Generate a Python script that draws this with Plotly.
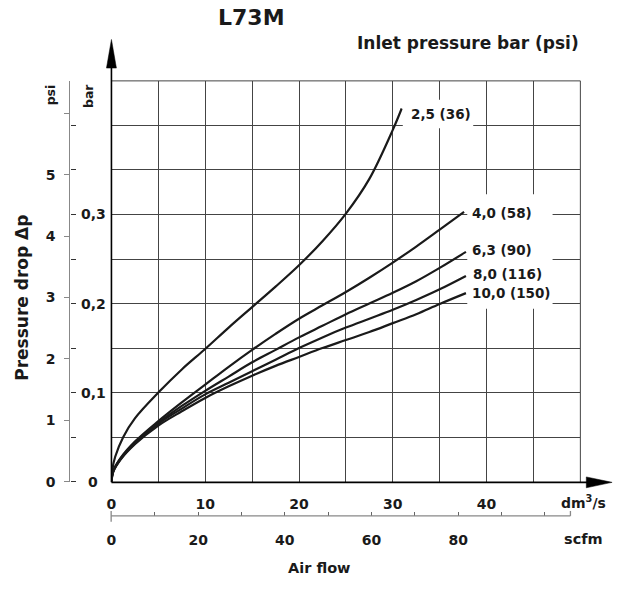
import plotly.graph_objects as go

W, H = 625, 589
def px(x): return x / W
def py(y): return 1 - y / H

# ---------------- data (flow in dm3/s, pressure drop in bar) ----------------
q_25 = [0, 0.1, 0.4, 1.25, 2.5, 5, 7.5, 10, 12.5, 15, 17.5, 20, 22.5, 25, 27.5, 30, 30.95]
p_25 = [0, 0.014, 0.028, 0.050, 0.071, 0.100, 0.126, 0.149, 0.173, 0.196,
        0.219, 0.243, 0.270, 0.301, 0.340, 0.395, 0.419]

q_hi = [0, 0.2, 1, 2.5, 5, 7.5, 10, 12.5, 15, 17.5, 20, 22.5, 25, 27.5, 30, 32.5, 35]
q_40 = q_hi + [37.6]
p_40 = [0, 0.012, 0.027, 0.045, 0.068, 0.089, 0.109, 0.129, 0.148, 0.166, 0.183, 0.198,
        0.213, 0.229, 0.246, 0.264, 0.283, 0.303]
q_63 = q_hi + [37.8]
p_63 = [0, 0.012, 0.026, 0.044, 0.066, 0.085, 0.102, 0.118, 0.134, 0.148, 0.162, 0.175,
        0.188, 0.200, 0.212, 0.225, 0.240, 0.258]
q_80 = q_hi + [37.8]
p_80 = [0, 0.012, 0.026, 0.043, 0.065, 0.082, 0.098, 0.111, 0.124, 0.137, 0.150, 0.162,
        0.173, 0.183, 0.193, 0.204, 0.216, 0.231]
q_100 = q_hi + [37.8]
p_100 = [0, 0.011, 0.025, 0.042, 0.063, 0.079, 0.094, 0.107, 0.119, 0.130, 0.140, 0.150,
         0.159, 0.168, 0.178, 0.188, 0.1995, 0.2117]

series_names = ["2,5 (36)", "4,0 (58)", "6,3 (90)", "8,0 (116)", "10,0 (150)"]
series = [(q_25, p_25), (q_40, p_40), (q_63, p_63), (q_80, p_80), (q_100, p_100)]

x_labels_at = [0, 10, 20, 30, 40]
x_grid_minor = [5, 15, 25, 35, 45, 50]
bar_grid = [0, 0.05, 0.1, 0.15, 0.2, 0.25, 0.3, 0.35, 0.4, 0.45]
bar_ticks = [0, 0.05, 0.1, 0.15, 0.2, 0.25, 0.3, 0.35, 0.4]
bar_labels_at = [0, 0.1, 0.2, 0.3]
bar_labels = ["0", "0,1", "0,2", "0,3"]
psi_labels_at = [0, 1, 2, 3, 4, 5]
psi_minor = [6]
scfm_labels_at = [0, 20, 40, 60, 80]
scfm_minor = [10, 30, 50, 70, 90, 100]

BAR_PER_PSI = 0.0689476
FONT = "DejaVu Sans, Verdana, sans-serif"
GRID = "#444444"
INK = "#1a1a1a"

fig = go.Figure()
for (q, p), name in zip(series, series_names):
    fig.add_trace(go.Scatter(x=q, y=p, mode="lines", name=name,
                             line=dict(color=INK, width=2.2, shape="spline", smoothing=1.0),
                             hoverinfo="skip", showlegend=False))

# invisible helpers so the secondary axes are drawn
for kw in (dict(yaxis="y2"), dict(yaxis="y3"), dict(xaxis="x2")):
    fig.add_trace(go.Scatter(x=[0], y=[0], mode="markers", marker=dict(opacity=0),
                             showlegend=False, hoverinfo="skip", **kw))

tickfont = dict(family=FONT, size=14, color=INK, weight="bold")

fig.update_layout(
    width=W, height=H,
    margin=dict(l=0, r=0, t=0, b=0),
    paper_bgcolor="white", plot_bgcolor="white",
    showlegend=False,
    xaxis=dict(domain=[px(107.3), px(580)], range=[0, 50],
               tickvals=x_labels_at, ticktext=[str(v) for v in x_labels_at],
               showgrid=True, gridcolor=GRID, gridwidth=1,
               minor=dict(tickmode="array", tickvals=x_grid_minor, showgrid=True, gridcolor=GRID, gridwidth=1, ticks=""),
               zeroline=False, showline=False,
               ticks="", tickfont=tickfont, ticklabelstandoff=12, anchor="y"),
    xaxis2=dict(overlaying="x", anchor="free", position=py(523), side="bottom",
                range=[0, 108.17], tickvals=scfm_labels_at, ticktext=[str(v) for v in scfm_labels_at],
                showgrid=False, zeroline=False, showline=False,
                ticks="inside", ticklen=4, tickcolor="#666", tickwidth=1,
                minor=dict(tickmode="array", tickvals=scfm_minor, ticks="inside", ticklen=4, tickcolor="#666", tickwidth=1, showgrid=False),
                tickfont=tickfont, ticklabelstandoff=14),
    yaxis=dict(domain=[py(488.3), py(82)], range=[0, 0.45], tickvals=bar_grid,
               showticklabels=False, showgrid=True, gridcolor=GRID, gridwidth=1,
               zeroline=False, showline=False, ticks=""),
    yaxis2=dict(overlaying="y", anchor="free", position=px(65), side="right",
                range=[0, 0.45], tickvals=bar_ticks, showticklabels=False,
                ticks="outside", ticklen=5, tickcolor="#333", tickwidth=1,
                showline=True, linecolor="#888", linewidth=1.3,
                showgrid=False, zeroline=False),
    yaxis3=dict(overlaying="y", anchor="free", position=px(65), side="left",
                range=[0, 0.45 / BAR_PER_PSI], tickvals=psi_labels_at, ticktext=[str(v) for v in psi_labels_at],
                ticks="outside", ticklen=5, tickcolor="#888", tickwidth=1,
                minor=dict(tickmode="array", tickvals=psi_minor, ticks="outside", ticklen=5, tickcolor="#888", tickwidth=1, showgrid=False),
                showline=True, linecolor="#888", linewidth=1.3,
                showgrid=False, zeroline=False, tickfont=tickfont, ticklabelstandoff=6),
)

def P(x, y): return f"{px(x)} {py(y)}"

shapes = [
    dict(type="line", xref="paper", yref="paper", x0=px(107.3), x1=px(580), y0=py(82), y1=py(82), line=dict(color=GRID, width=1)),
    dict(type="line", xref="paper", yref="paper", x0=px(580), x1=px(580), y0=py(82), y1=py(489), line=dict(color=GRID, width=1)),
    # white label backgrounds
    dict(type="rect", xref="paper", yref="paper", x0=px(401), x1=px(472), y0=py(101), y1=py(130),
         fillcolor="white", line=dict(width=0), layer="above"),
    dict(type="rect", xref="paper", yref="paper", x0=px(466), x1=px(552), y0=py(197), y1=py(313),
         fillcolor="white", line=dict(width=0), layer="above"),
    # main axes with arrows
    dict(type="line", xref="paper", yref="paper", x0=px(107.3), x1=px(107.3), y0=py(489), y1=py(62), line=dict(color="black", width=1.6)),
    dict(type="path", xref="paper", yref="paper", path=f"M {P(102.3, 69)} L {P(107.3, 40)} L {P(112.3, 69)} Z",
         fillcolor="black", line=dict(color="black", width=0.5)),
    dict(type="line", xref="paper", yref="paper", x0=px(107.3), x1=px(592), y0=py(489), y1=py(489), line=dict(color="black", width=1.6)),
    dict(type="path", xref="paper", yref="paper", path=f"M {P(586, 483.5)} L {P(612, 489)} L {P(586, 494.5)} Z",
         fillcolor="black", line=dict(color="black", width=0.5)),
    # scfm axis line and end ticks
    dict(type="line", xref="paper", yref="paper", x0=px(107), x1=px(570), y0=py(523), y1=py(523), line=dict(color="#888", width=1.3)),
    dict(type="line", xref="paper", yref="paper", x0=px(107), x1=px(107), y0=py(518), y1=py(529), line=dict(color="#888", width=1.3)),
    dict(type="line", xref="paper", yref="paper", x0=px(570), x1=px(570), y0=py(518), y1=py(523), line=dict(color="#888", width=1.3)),
]
fig.update_layout(shapes=shapes)

def ann(text, x, y, size, xanchor="center", angle=0):
    return dict(text=f"<b>{text}</b>", x=px(x), y=py(y), xref="paper", yref="paper",
                xanchor=xanchor, yanchor="middle", showarrow=False, textangle=angle,
                font=dict(family=FONT, size=size, color=INK))

label_pos = [(407, 116), (469, 216), (469, 253), (470, 278), (469, 297)]
annotations = [
    ann("L73M", 248, 18, 22),
    ann("Inlet pressure bar (psi)", 581, 44, 17, xanchor="right"),
    ann("Pressure drop Δp", 17, 302, 17, angle=-90),
    ann("psi", 46, 96, 12.5, angle=-90),
    ann("bar", 84, 97, 12.5, angle=-90),
    ann("dm<sup>3</sup>/s", 583, 509, 14),
    ann("scfm", 583, 546, 14.5),
    ann("Air flow", 317, 576, 14.5),
]
for name, (lx, ly) in zip(series_names, label_pos):
    annotations.append(ann(name, lx, ly, 13.5, xanchor="left"))
# bar scale labels, positioned through the bar axis
for v, t in zip(bar_labels_at, bar_labels):
    annotations.append(dict(text=f"<b>{t}</b>", x=px(89), y=v, xref="paper", yref="y2",
                            xanchor="center", yanchor="middle", showarrow=False,
                            font=dict(family=FONT, size=14, color=INK)))
fig.update_layout(annotations=annotations)

fig.write_html("out.html", config={"displayModeBar": False},
               post_script="document.body.style.margin='0';document.body.style.overflow='hidden';")
